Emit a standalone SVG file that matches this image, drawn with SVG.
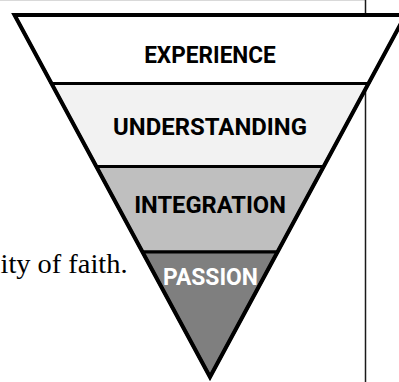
<svg xmlns="http://www.w3.org/2000/svg" width="399" height="382" viewBox="0 0 399 382">
<style>
.band{stroke:#000;stroke-width:3;stroke-linejoin:miter}
.lbl{font-family:Roboto,"Open Sans","Liberation Sans",sans-serif;font-weight:bold;font-size:23px;text-anchor:middle}
.body{font-family:"Liberation Serif","Times New Roman",serif;font-size:28px;fill:#000}
</style>
<rect x="0" y="0" width="399" height="382" fill="#fff"/>
<g id="page-rules">
<line x1="0" y1="0.5" x2="365" y2="0.5" stroke="#d9d9d9" stroke-width="1.2"/>
<line x1="365.5" y1="0" x2="365.5" y2="382" stroke="#1a1a1a" stroke-width="1.5"/>
</g>
<g id="body-text">
<text class="body" x="0.5" y="273.3" textLength="127" lengthAdjust="spacingAndGlyphs">ity of faith.</text>
</g>
<g id="connectors"></g>
<g id="experience">
<polygon class="band" fill="#ffffff" points="14.5,15 405.5,15 368.5,83.5 51.5,83.5"/>
<text class="lbl" x="210" y="63.3" fill="#000" textLength="131.7" lengthAdjust="spacingAndGlyphs">EXPERIENCE</text>
</g>
<g id="understanding">
<polygon class="band" fill="#f2f2f2" points="51.5,83.5 368.5,83.5 323.7,166.5 96.3,166.5"/>
<text class="lbl" x="210" y="135" fill="#000" textLength="194" lengthAdjust="spacingAndGlyphs">UNDERSTANDING</text>
</g>
<g id="integration">
<polygon class="band" fill="#bfbfbf" points="96.3,166.5 323.7,166.5 277.5,252 142.5,252"/>
<text class="lbl" x="210" y="213.3" fill="#000" textLength="151.7" lengthAdjust="spacingAndGlyphs">INTEGRATION</text>
</g>
<g id="passion">
<polygon class="band" fill="#7f7f7f" points="142.5,252 277.5,252 210,377"/>
<text class="lbl" x="210.5" y="285" fill="#fff" textLength="95" lengthAdjust="spacingAndGlyphs">PASSION</text>
</g>
<g id="funnel-outline">
<polygon points="14.5,15 405.5,15 210,377" fill="none" stroke="#000" stroke-width="4" stroke-linejoin="miter" stroke-miterlimit="10"/>
</g>
</svg>
